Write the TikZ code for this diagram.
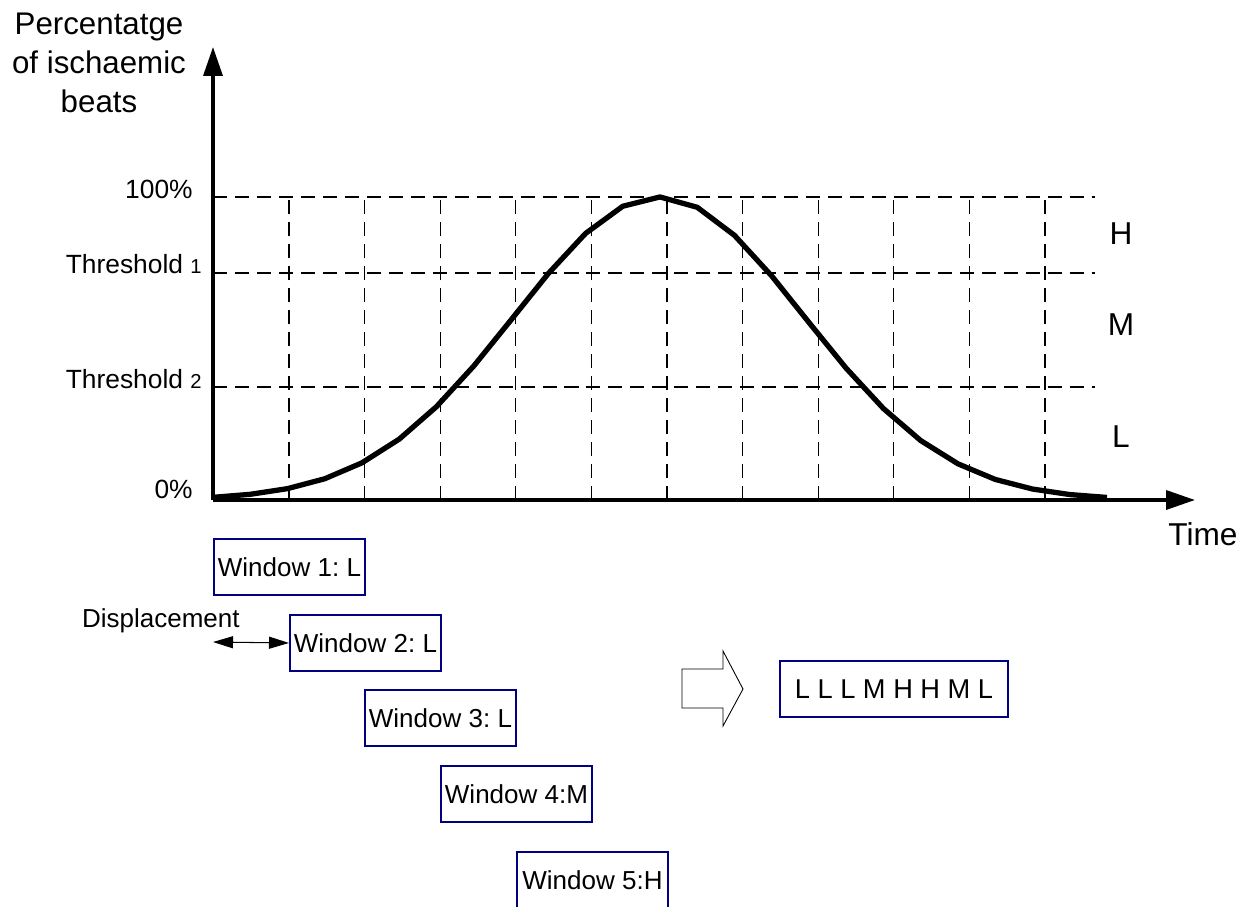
\documentclass[tikz,border=0pt]{standalone}
\usepackage{fontspec}
\setmainfont{Liberation Sans}
\usetikzlibrary{arrows.meta}
\definecolor{cadre}{RGB}{0,0,128}
\frenchspacing

\begin{document}
\begin{tikzpicture}[
        axe/.style={line width=2pt, -{Triangle[length=0.58cm, width=0.38cm]}},
        grille/.style={line width=0.6pt, dash pattern=on 8pt off 4.5pt},
        fenetre/.style={draw=cadre, line width=1.1pt, minimum width=3.02cm, minimum height=1.12cm,
            inner sep=0pt, anchor=north west, font=\fontsize{14.8}{17}\selectfont},
        niveau/.style={inner sep=0pt, font=\fontsize{18}{20}\selectfont},
        seuil/.style={inner sep=0pt, anchor=base east, font=\fontsize{15}{17}\selectfont}
    ]
        \clip (-4.26,-8.12) rectangle (20.92,10);
        % Axes
        \coordinate (O) at (0,0);
        \coordinate (ytop) at (0,9.06);
        \coordinate (xend) at (19.64,0);
        \draw[axe] (O) -- (ytop);
        \draw[axe] (O) -- (xend);
        \node[inner sep=0pt, anchor=north, align=center, font=\fontsize{17.8}{22}\selectfont] (ylab) at (-2.28,9.74)
            {Percentatge\\of ischaemic\\beats};
        \node[inner sep=0pt, anchor=base west, font=\fontsize{18}{20}\selectfont] (tlab) at (19.1,-0.9) {Time};
        % Lignes de reference (seuils)
        \foreach \y in {2.26, 4.54, 6.06} {
            \draw[grille] (0,\y) -- (17.64,\y);
        }
        % Lignes verticales des fenetres
        \foreach \k in {0,...,10} {
            \draw[grille] ({1.52+1.512*\k},0) -- ({1.52+1.512*\k},6.06);
        }
        % Etiquettes de l'axe vertical
        \node[seuil] (p100) at (-0.4,6.04) {100\%};
        \node[seuil] (th1) at (-0.22,4.54) {Threshold {\fontsize{11.5}{13}\selectfont 1}};
        \node[seuil] (th2) at (-0.22,2.24) {Threshold {\fontsize{11.5}{13}\selectfont 2}};
        \node[seuil] (p0) at (-0.4,0.04) {0\%};
        % Niveaux
        \node[niveau] (nivH) at (18.16,5.32) {H};
        \node[niveau] (nivM) at (18.16,3.5) {M};
        \node[niveau] (nivL) at (18.16,1.26) {L};
        % Courbe
        \draw[line width=3pt, line join=round] plot[domain=0:17.88, samples=25]
            (\x,{6.06*exp(-((\x-8.92)^2)/(2*2.9^2))});
        % Fenetres glissantes
        \node[fenetre] (win1) at (0,-0.76) {Window 1: L};
        \node[fenetre] (win2) at (1.52,-2.28) {Window 2: L};
        \node[fenetre] (win3) at (3.02,-3.78) {Window 3: L};
        \node[fenetre] (win4) at (4.54,-5.3) {Window 4:M};
        \node[fenetre] (win5) at (6.06,-7.02) {Window 5:H};
        % Deplacement
        \node[inner sep=0pt, anchor=base east, font=\fontsize{14.8}{17}\selectfont] (dep) at (0.54,-2.54) {Displacement};
        \coordinate (depA) at (0,-2.84);
        \draw[line width=0.6pt, {Triangle[length=0.4cm, width=0.24cm]}-{Triangle[length=0.4cm, width=0.24cm]}] (depA) -- (win2.west);
        % Fleche creuse
        \draw[line width=0.5pt] (9.38,-3.38) -- (10.2,-3.38) -- (10.2,-3.02) -- (10.6,-3.78)
            -- (10.2,-4.52) -- (10.2,-4.16) -- (9.38,-4.16) -- cycle;
        % Resultat
        \node[draw=cadre, line width=1.1pt, minimum width=4.56cm, minimum height=1.12cm, inner sep=0pt,
            font=\fontsize{15.5}{17}\selectfont] (res) at (13.62,-3.78) {L L L M H H M L};
    \end{tikzpicture}
\end{document}
